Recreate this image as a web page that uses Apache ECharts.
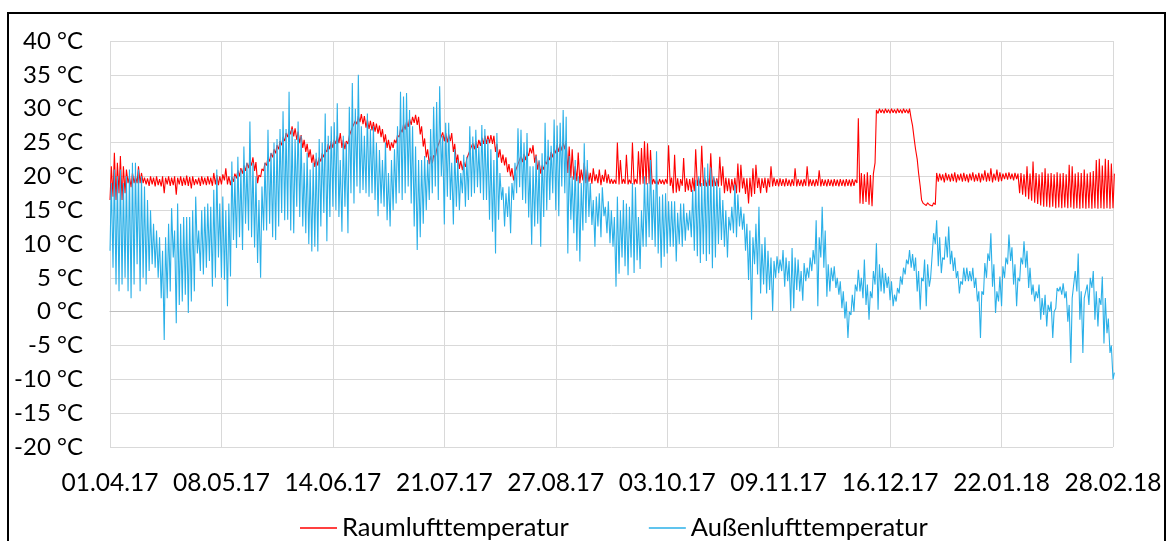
<!DOCTYPE html>
<html>
<head>
<meta charset="utf-8">
<script src="https://cdn.jsdelivr.net/npm/echarts@6/dist/echarts.min.js"></script>
<style>
html,body{margin:0;padding:0;background:#fff;}
#c{width:1169px;height:541px;}
</style>
</head>
<body>
<div id="c"></div>
<script>
// x tick labels (every 37 days from 01.04.17)
const tickLabels = ['01.04.17','08.05.17','14.06.17','21.07.17','27.08.17','03.10.17','09.11.17','16.12.17','22.01.18','28.02.18'];
const tickStepDays = 37;
const totalDays = 333;

// Außenlufttemperatur: early-morning (low) value per day, index = day since 01.04.17
const outdoorAM = [
  9, 6.5, 4, 3, 4, 5, 3, 2, 4, 7,
  3, 5, 4, 6, 7, 6.5, 5, 2, -4.2, 2,
  3, 8, -1.7, 1, 1.5, 2.5, -0.2, 1.5, 3, 8.6,
  6, 5.5, 6.5, 7.5, 3.7, 5, 8, 5, 4.7, 0.8,
  5.2, 10.6, 9.4, 11, 9.1, 13, 12, 11, 9.5, 7.2,
  5, 12, 12, 13, 11, 10.6, 12.6, 14.6, 13.5, 13.6,
  12, 11.6, 15.5, 14, 12.6, 11.6, 10, 8.9, 9.6, 8.9,
  12.6, 14.6, 10.4, 14, 15.5, 15, 14, 11.8, 15.5, 11.6,
  17.5, 16, 18.5, 17.5, 18, 17.5, 17, 17.5, 16.5, 14.1,
  16, 15.5, 13.5, 12.6, 15, 16, 17.5, 16.5, 17.5, 18.5,
  16, 12.6, 9.1, 11, 13, 15, 16.5, 17.5, 18.5, 16.5,
  20, 12.9, 17, 16.5, 12.9, 15.5, 15, 17.5, 15.5, 16.5,
  17, 17.5, 18.4, 17.5, 16.5, 16.5, 13.6, 11.8, 8.6, 13.6,
  16.5, 12.6, 14, 11.6, 16.5, 17.5, 18.4, 16.5, 16, 13.9,
  9.9, 12.6, 13, 9.6, 14, 15, 16.5, 17.5, 15, 14.1,
  18.5, 17.5, 8.6, 13.6, 11.6, 9, 7.4, 12, 13.1, 14,
  12.8, 9.6, 12.6, 11, 14.1, 11.6, 10.1, 9.6, 3.7, 5.6,
  8, 6.7, 5.4, 8, 5.7, 7.6, 6.3, 9.6, 9.6, 11,
  10.6, 9.6, 8.6, 6.5, 8.1, 8.6, 9.6, 9.6, 7.4, 10,
  9.6, 10.5, 12, 11, 9, 8.2, 7.2, 8.5, 7.5, 8.5,
  6.4, 8, 10, 10.6, 9.6, 8, 12, 11.6, 11, 12.6,
  12.1, 9, 4.7, -1.2, 7, 5.5, 2.7, 4, 2.7, 3.2,
  0.1, 5, 5.7, 6, 3.7, 4.5, 0.1, 0.5, 3.2, 3,
  1.6, 4.5, 5, 6, 7, 0.8, 8, 6.5, 2.2, 3,
  4.5, 3.5, 2.5, 0.5, -1, -3.9, -0.5, 0, 3, 3,
  2, 1, -1.2, 2, 4, 0.3, 3, 2.7, 3.5, 1.7,
  0.8, 1.5, 2.7, 4, 5.5, 7, 6.5, 6, 3, 0.3,
  4.5, 0.8, 3.7, 5, 10, 6.7, 5.7, 7.7, 8, 7,
  6, 5, 2.7, 4, 4.5, 4.5, 4.5, 3.5, 1.5, -3.9,
  2.5, 5, 7.5, 3.7, -0.2, 1.5, 0.8, 5, 7, 7.5,
  4, 0.8, 4.5, 7, 6.5, 3.5, 2.5, 1.5, 2, -1.2,
  -0.5, -2.2, 0, -3.9, 0.5, 3, 2.5, 2, -1.5, -7.6,
  2, 3, -1.2, -6.1, 2, 1, 3.5, -1.2, -2.2, 1,
  -4.7, -3.2, -6.1, -10
];

// Außenlufttemperatur: afternoon (high) value per day
const outdoorPM = [
  19, 21, 20, 21, 19, 20, 21, 22, 22, 21,
  20, 18.5, 16.5, 15, 13, 12, 11, 9, 11, 13,
  15.3, 12, 16, 13, 14, 14, 14, 15, 17, 12,
  15, 15.5, 16, 15.5, 18, 21, 16, 17, 15, 16,
  22.2, 20, 22.9, 21, 24.4, 22, 28.1, 22, 20, 16.5,
  18.5, 22, 26.9, 23.5, 25, 25.5, 27, 29.6, 27, 32.5,
  27, 25.5, 28.1, 26, 22, 23.5, 21, 22, 23.5, 25.5,
  25, 29.3, 26, 27.4, 28, 30.8, 22.4, 26, 25, 30.3,
  33.8, 30, 35, 27.4, 26, 29.3, 27, 27.4, 25, 23.9,
  22.4, 25, 20.5, 22.4, 24, 27.4, 32.5, 31.8, 32.3, 29.8,
  27.4, 24.4, 22.4, 22.4, 23, 22.4, 27, 30.3, 31, 33.3,
  26, 27.9, 27.9, 22, 24, 22.4, 20.5, 23.2, 22.9, 27.4,
  25.9, 26.9, 24.4, 27.6, 27, 25.5, 24, 22.4, 26.4, 20.5,
  18.4, 17.5, 18.5, 19, 22, 27.1, 26.9, 25, 26.4, 21.5,
  21.5, 23, 22.4, 23.4, 27.9, 25.4, 24.5, 28.4, 27.5, 27.9,
  29.8, 28.8, 23, 20, 22.4, 20, 19, 24.9, 22.4, 19,
  16.5, 17, 17.5, 18.4, 15.5, 16.3, 15, 14, 17, 15,
  16.5, 16, 15.5, 19, 18.4, 14, 15, 20, 19, 22.4,
  18, 23.7, 17, 17.3, 17.5, 16.3, 16.3, 16.3, 14.6, 16,
  16, 14.6, 15, 18, 19.5, 20, 19, 21.3, 21.9, 21.3,
  20, 19.5, 18.3, 16.5, 15, 14, 15.5, 18.8, 17.3, 15.5,
  14.5, 13, 12, 11, 13, 15.5, 10, 11, 9, 8,
  7.5, 8.2, 7.7, 9.1, 8, 7.5, 9.4, 8, 7.7, 6,
  7.2, 6.5, 8, 9.1, 13.5, 11, 15.5, 12, 7, 6.5,
  6.7, 5, 4.5, 3, 1.5, 0, 2.5, 4, 6.2, 5,
  7.7, 4, 3, 6, 10.1, 7, 6.5, 5.7, 5.2, 4.5,
  2.5, 3.5, 5.2, 6.5, 7.7, 9.1, 8.5, 8, 6, 5,
  7.7, 7, 5, 11.6, 13.5, 11, 8, 11.1, 12.6, 9,
  8, 6, 4.5, 6.5, 6.5, 6, 6.5, 5, 3, 3,
  7.2, 8.6, 11.6, 7, 3, 5.2, 6.7, 8, 11.4, 9.5,
  7, 5, 8, 10.4, 9, 6.5, 4, 3, 4, 2,
  2.5, 1, 1.5, 0, 3.5, 3.7, 4.2, 3, 1, 2,
  6, 8.6, 3, 2, 4, 5, 6, 3, 2, 5.2,
  2, -1, -5, -9
];

// Raumlufttemperatur: early-morning value per day
const indoorAM = [
  16.5, 17, 16.5, 17.5, 16.5, 17.5, 19, 18.4, 19, 19,
  19, 19, 18.8, 18.6, 18.8, 18.5, 18.7, 18.5, 17.5, 18.8,
  18.6, 18.7, 17.3, 18.8, 18.6, 18.7, 18.6, 18.2, 18.7, 18.8,
  18.6, 18.8, 18.7, 18.8, 18.6, 18.8, 18.7, 18.8, 19.4, 18.8,
  18.7, 19.2, 19.7, 20, 20.4, 20.8, 21.2, 21.6, 20.8, 19,
  19.9, 20.8, 21.6, 22.2, 22.8, 23.4, 24, 24.6, 25.2, 25.8,
  26.2, 25.9, 25.4, 24.9, 24.2, 23.6, 22.8, 22, 21.4, 21.6,
  22.2, 22.8, 23.6, 24, 24.2, 24.8, 24.9, 24.2, 24, 24.8,
  26, 27, 27.7, 28, 27.7, 27.2, 27, 26.8, 26.6, 26.3,
  25.8, 25, 24.2, 23.8, 24.2, 24.9, 25.8, 26.5, 26.9, 27.3,
  27.6, 27.9, 27.6, 26.2, 24.4, 22.8, 21.8, 21.9, 22.8, 24,
  25.3, 25.2, 25, 25.2, 23.6, 22, 21.1, 20.9, 21.4, 22.6,
  23.7, 24, 24.2, 24.5, 24.8, 24.8, 24.9, 24.8, 23.6, 22.8,
  22, 21.6, 20.6, 20, 19.4, 20.6, 21.8, 22.1, 22.4, 23,
  23.4, 22, 21, 20.4, 21, 21.8, 22.4, 22.8, 23.4, 23.6,
  23.8, 24, 20.5, 19.8, 19.5, 19.3, 19, 19.4, 19, 19.2,
  18.9, 19.3, 19, 18.7, 19.2, 19, 18.9, 18.9, 18.9, 18.8,
  18.9, 18.9, 18.8, 18.9, 18.8, 18.9, 18.8, 18.9, 18.8, 18.9,
  18.8, 18.9, 18.8, 18.9, 18.8, 18.9, 18.6, 17.5, 17.6, 17.8,
  18.6, 17.7, 17.9, 17.7, 17.8, 18.6, 18.5, 18.6, 18.5, 18.6,
  18.5, 18.6, 18.5, 18.6, 17.5, 17.8, 17.5, 17.9, 17.5, 17.6,
  18.2, 17.4, 16, 17, 17.4, 18.3, 17.5, 18.3, 17.6, 18.4,
  18.5, 18.6, 18.5, 18.6, 18.5, 18.6, 18.5, 18.6, 18.5, 18.6,
  18.5, 18.6, 18.5, 18.6, 18.5, 18.6, 18.5, 18.6, 18.5, 18.6,
  18.5, 18.6, 18.5, 18.6, 18.5, 18.6, 18.5, 18.6, 19, 16,
  15.9, 16.2, 15.8, 15.6, 22, 29.3, 29.4, 29.3, 29.4, 29.3,
  29.4, 29.3, 29.4, 29.3, 29.4, 29.3, 28.5, 25.5, 22.5, 18.5,
  16, 15.7, 15.8, 15.6, 15.8, 19.2, 19.4, 19.1, 19.4, 19.2,
  19.3, 19.1, 19.4, 19.2, 19.3, 19.1, 19.4, 19.2, 19.3, 19.1,
  19.4, 19.2, 19.3, 19.1, 19.4, 19.2, 19.3, 19.6, 19.5, 19.6,
  19.4, 19.6, 17.5, 17.3, 17, 16.6, 16.4, 16.1, 15.9, 15.7,
  15.5, 15.5, 15.4, 15.5, 15.3, 15.4, 15.3, 15.4, 15.3, 15.4,
  15.2, 15.3, 15.2, 15.3, 15.2, 15.3, 15.2, 15.3, 15.2, 15.3,
  15.2, 15.3, 15.2, 15.3
];

// Raumlufttemperatur: afternoon value per day
const indoorPM = [
  21.5, 23.5, 22, 23, 21.5, 21, 20, 20.5, 20, 21.5,
  20.5, 19.8, 19.7, 20, 19.8, 20, 19.6, 20, 19.8, 20,
  19.8, 20, 19.8, 20, 19.8, 20.1, 19.9, 20, 19.6, 19.8,
  20, 19.8, 20, 19.8, 20.5, 20.2, 20, 20.3, 21.2, 20,
  19.9, 20.4, 20.9, 21.2, 21.6, 22, 22.4, 22.8, 22.1, 20.2,
  21.1, 22, 22.8, 23.4, 24, 24.6, 25.2, 25.8, 26.4, 27,
  27.4, 27.1, 26.6, 26.1, 25.4, 24.8, 24, 23.2, 22.6, 22.8,
  23.4, 24, 24.8, 25.2, 25.4, 26, 26.4, 25.4, 25.2, 26,
  27.2, 28.2, 28.9, 29.2, 28.9, 28.4, 28.2, 28, 27.8, 27.5,
  27, 26.2, 25.4, 25, 25.4, 26.1, 27, 27.7, 28.1, 28.5,
  28.8, 29.1, 28.8, 27.4, 25.6, 24, 23, 23.1, 24, 25.2,
  26.5, 26.4, 26.2, 26.4, 24.8, 23.2, 22.3, 22.1, 22.6, 23.8,
  24.9, 25.2, 25.4, 25.7, 26, 26, 26.1, 26, 24.8, 24,
  23.2, 22.8, 21.8, 21.2, 20.6, 21.8, 23, 23.3, 23.6, 24.2,
  24.6, 23.2, 22.2, 21.6, 22.2, 23, 23.6, 24, 24.6, 24.8,
  25, 25.2, 24.4, 24, 21.5, 23.5, 21, 22, 21, 20.5,
  21.2, 20.3, 21, 20.2, 21, 20.3, 19.6, 19.5, 25, 22.4,
  19.6, 23.2, 19.5, 25, 19.6, 23.7, 24.2, 25.2, 24.9, 23.9,
  19.6, 19.5, 19.6, 19.5, 19.6, 24.6, 19.8, 23.2, 19.7, 19.6,
  22.7, 19.7, 19.6, 19.8, 24, 19.7, 24.5, 19.8, 19.7, 23.4,
  19.8, 19.7, 22.9, 21.5, 19.8, 19.7, 19.6, 19.8, 21.9, 21.7,
  19.8, 19.7, 19.8, 21.2, 21.7, 19.8, 19.7, 19.8, 19.7, 21.5,
  19.8, 19.6, 19.7, 19.6, 19.7, 19.5, 19.6, 21.2, 19.6, 19.5,
  19.6, 21.5, 19.6, 19.5, 19.6, 20.9, 19.6, 19.5, 19.6, 19.5,
  19.6, 19.5, 19.6, 19.5, 19.6, 19.5, 19.6, 19.5, 28.6, 20.5,
  20.3, 20.6, 20.2, 20.4, 29.8, 30, 29.9, 30, 29.9, 30,
  29.9, 30, 29.9, 30, 29.9, 30, 27.5, 24, 20.5, 16.5,
  15.8, 16.1, 16, 16.1, 20.5, 20.4, 20.3, 20.5, 20.3, 20.4,
  20.6, 20.3, 20.4, 20.5, 20.3, 20.4, 20.6, 20.3, 20.5, 20.4,
  20.9, 20.5, 21.2, 20.4, 21, 20.6, 20.4, 20.5, 20.6, 20.4,
  20.5, 20.4, 20.5, 20.3, 21.5, 20.4, 22.2, 20.5, 20.3, 20.6,
  21.2, 20.4, 20.5, 20.3, 20.6, 20.4, 20.5, 20.3, 21.7, 21.5,
  20.4, 20.6, 20.5, 21, 20.4, 20.6, 20.8, 22.4, 22.6, 21.6,
  22.6, 22.4, 21.9, 20.4
];

function dailyPairs(am, pm) {
  const out = [];
  for (let d = 0; d < am.length; d++) {
    out.push([d, am[d]]);
    out.push([d + 0.45, pm[d]]);
  }
  return out;
}

const chart = echarts.init(document.getElementById('c'), null, { renderer: 'canvas' });
const FONT = 'Lato';
chart.setOption({
  animation: false,
  backgroundColor: '#ffffff',
  textStyle: { fontFamily: FONT },
  grid: { left: 110, right: 56, top: 41, bottom: 94 },
  xAxis: {
    type: 'value',
    min: 0,
    max: totalDays,
    interval: tickStepDays,
    axisLine: { show: true, lineStyle: { color: '#bfbfbf', width: 1 } },
    axisTick: { show: false },
    splitLine: { show: true, lineStyle: { color: '#d9d9d9', width: 1 } },
    axisLabel: {
      fontFamily: FONT, fontSize: 24.5, color: '#000', margin: 24,
      formatter: function (v) { return tickLabels[Math.round(v / tickStepDays)] || ''; }
    }
  },
  yAxis: {
    type: 'value',
    min: -20,
    max: 40,
    interval: 5,
    axisLine: { show: false },
    axisTick: { show: false },
    splitLine: { show: true, lineStyle: { color: '#d9d9d9', width: 1 } },
    axisLabel: { fontFamily: FONT, fontSize: 24, color: '#000', margin: 27, formatter: '{value} °C' }
  },
  legend: {
    left: 300,
    top: 515,
    padding: 0,
    icon: 'rect',
    itemWidth: 37,
    itemHeight: 1.6,
    itemGap: 80,
    textStyle: { fontFamily: FONT, fontSize: 25.5, color: '#000' },
    data: ['Raumlufttemperatur', 'Außenlufttemperatur']
  },
  series: [
    {
      name: 'Raumlufttemperatur',
      type: 'line',
      symbol: 'none',
      data: dailyPairs(indoorAM, indoorPM),
      lineStyle: { color: '#ff0000', width: 1.1 },
      itemStyle: { color: '#ff0000' }
    },
    {
      name: 'Außenlufttemperatur',
      type: 'line',
      symbol: 'none',
      data: dailyPairs(outdoorAM, outdoorPM),
      lineStyle: { color: '#2bb0e8', width: 1.1 },
      itemStyle: { color: '#2bb0e8' }
    }
  ],
  graphic: [
    {
      type: 'rect',
      silent: true,
      shape: { x: 8, y: 13, width: 1157, height: 600 },
      style: { fill: 'none', stroke: '#000', lineWidth: 2 }
    }
  ]
});
</script>
</body>
</html>
